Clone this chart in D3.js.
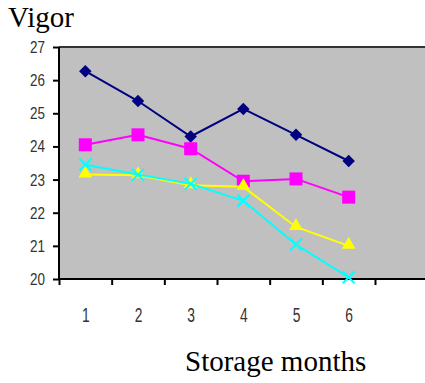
<!DOCTYPE html>
<html><head><meta charset="utf-8">
<script src="https://cdn.jsdelivr.net/npm/d3@7"></script>
<style>body{margin:0;background:#fff}svg{display:block}</style>
</head><body>
<svg id="c" width="425" height="383"></svg>
<script>
const months = [1, 2, 3, 4, 5, 6];
const seriesA = [26.27, 25.37, 24.3, 25.13, 24.35, 23.56];   // navy diamonds
const seriesB = [24.05, 24.35, 23.93, 22.95, 23.02, 22.47];  // magenta squares
const seriesC = [23.15, 23.13, 22.83, 22.78, 21.57, 21.0];   // yellow triangles
const seriesD = [23.45, 23.15, 22.87, 22.36, 21.04, 20.05];  // cyan crosses
const yTicks = [20, 21, 22, 23, 24, 25, 26, 27];
const yTitle = "Vigor";
const xTitle = "Storage months";

const svg = d3.select("#c");
const L = 59, T = 47, B = 279, R = 425;
const x = d3.scaleLinear().domain([0.5, 6.5]).range([L, 375]);
const y = d3.scaleLinear().domain([20, 27]).range([B, T]);

svg.append("rect").attr("x", L).attr("y", T).attr("width", R - L).attr("height", B - T).attr("fill", "#c0c0c0");
svg.append("line").attr("x1", L).attr("x2", R).attr("y1", T).attr("y2", T).attr("stroke", "#333").attr("stroke-width", 2);

const tickFont = "'Liberation Sans', Arial, sans-serif";
// y axis
const ya = svg.append("g").attr("transform", `translate(${L},0)`)
  .call(d3.axisLeft(y).tickValues(yTicks).tickSize(6).tickFormat(d3.format("d")));
ya.select(".domain").attr("stroke", "#000").attr("stroke-width", 2).attr("d", `M0,${T}V${B}`);
ya.selectAll(".tick line").attr("stroke", "#000").attr("stroke-width", 2);
ya.selectAll(".tick text").attr("x", 0).attr("dy", null).attr("y", 5.5)
  .attr("transform", "translate(-14,0) scale(0.84,1)")
  .attr("font-family", tickFont).attr("font-size", 16).attr("fill", "#333");

// x axis tick marks at category boundaries
const boundaries = d3.range(0.5, 7, 1);
const xa = svg.append("g").attr("transform", `translate(0,${B})`)
  .call(d3.axisBottom(x).tickValues(boundaries).tickSize(6).tickFormat(""));
xa.select(".domain").attr("stroke", "#000").attr("stroke-width", 2).attr("d", `M${L},0H${R}`);
xa.selectAll(".tick line").attr("stroke", "#000").attr("stroke-width", 2);
// x labels
const xl = svg.append("g").attr("transform", `translate(0,${B})`)
  .call(d3.axisBottom(x).tickValues(months).tickSize(0).tickFormat(d3.format("d")));
xl.select(".domain").remove();
xl.selectAll(".tick text").attr("dy", null).attr("y", 43.5)
  .attr("transform", "scale(0.71,1)")
  .attr("font-family", tickFont).attr("font-size", 19.5).attr("fill", "#333");

const line = d3.line().x((d, i) => x(months[i])).y(d => y(d));
const sym = (type, size) => d3.symbol().type(type).size(size)();

function drawSeries(vals, color, markerFn) {
  svg.append("path").datum(vals).attr("d", line).attr("fill", "none").attr("stroke", color).attr("stroke-width", 2);
  const g = svg.append("g");
  vals.forEach((v, i) => markerFn(g.append("g").attr("transform", `translate(${x(months[i])},${y(v)})`)));
}
drawSeries(seriesA, "#000080", g => g.append("path").attr("d", sym(d3.symbolSquare, 78)).attr("transform", "rotate(45)").attr("fill", "#000080"));
drawSeries(seriesB, "#ff00ff", g => g.append("path").attr("d", sym(d3.symbolSquare, 169)).attr("fill", "#ff00ff"));
drawSeries(seriesC, "#ffff00", g => g.append("path").attr("d", sym(d3.symbolTriangle, 80)).attr("fill", "#ffff00").attr("transform", "translate(0,-1)"));
drawSeries(seriesD, "#00ffff", g => g.append("path").attr("d", "M-6,-6L6,6M-6,6L6,-6").attr("stroke", "#00ffff").attr("stroke-width", 2));

svg.append("text").attr("x", 8).attr("y", 27).attr("font-family", "'Liberation Serif', 'Times New Roman', serif").attr("font-size", 29).attr("fill", "#000").text(yTitle);
svg.append("text").attr("x", 185).attr("y", 371).attr("font-family", "'Liberation Serif', 'Times New Roman', serif").attr("font-size", 29).attr("fill", "#000").text(xTitle);
</script>
</body></html>
